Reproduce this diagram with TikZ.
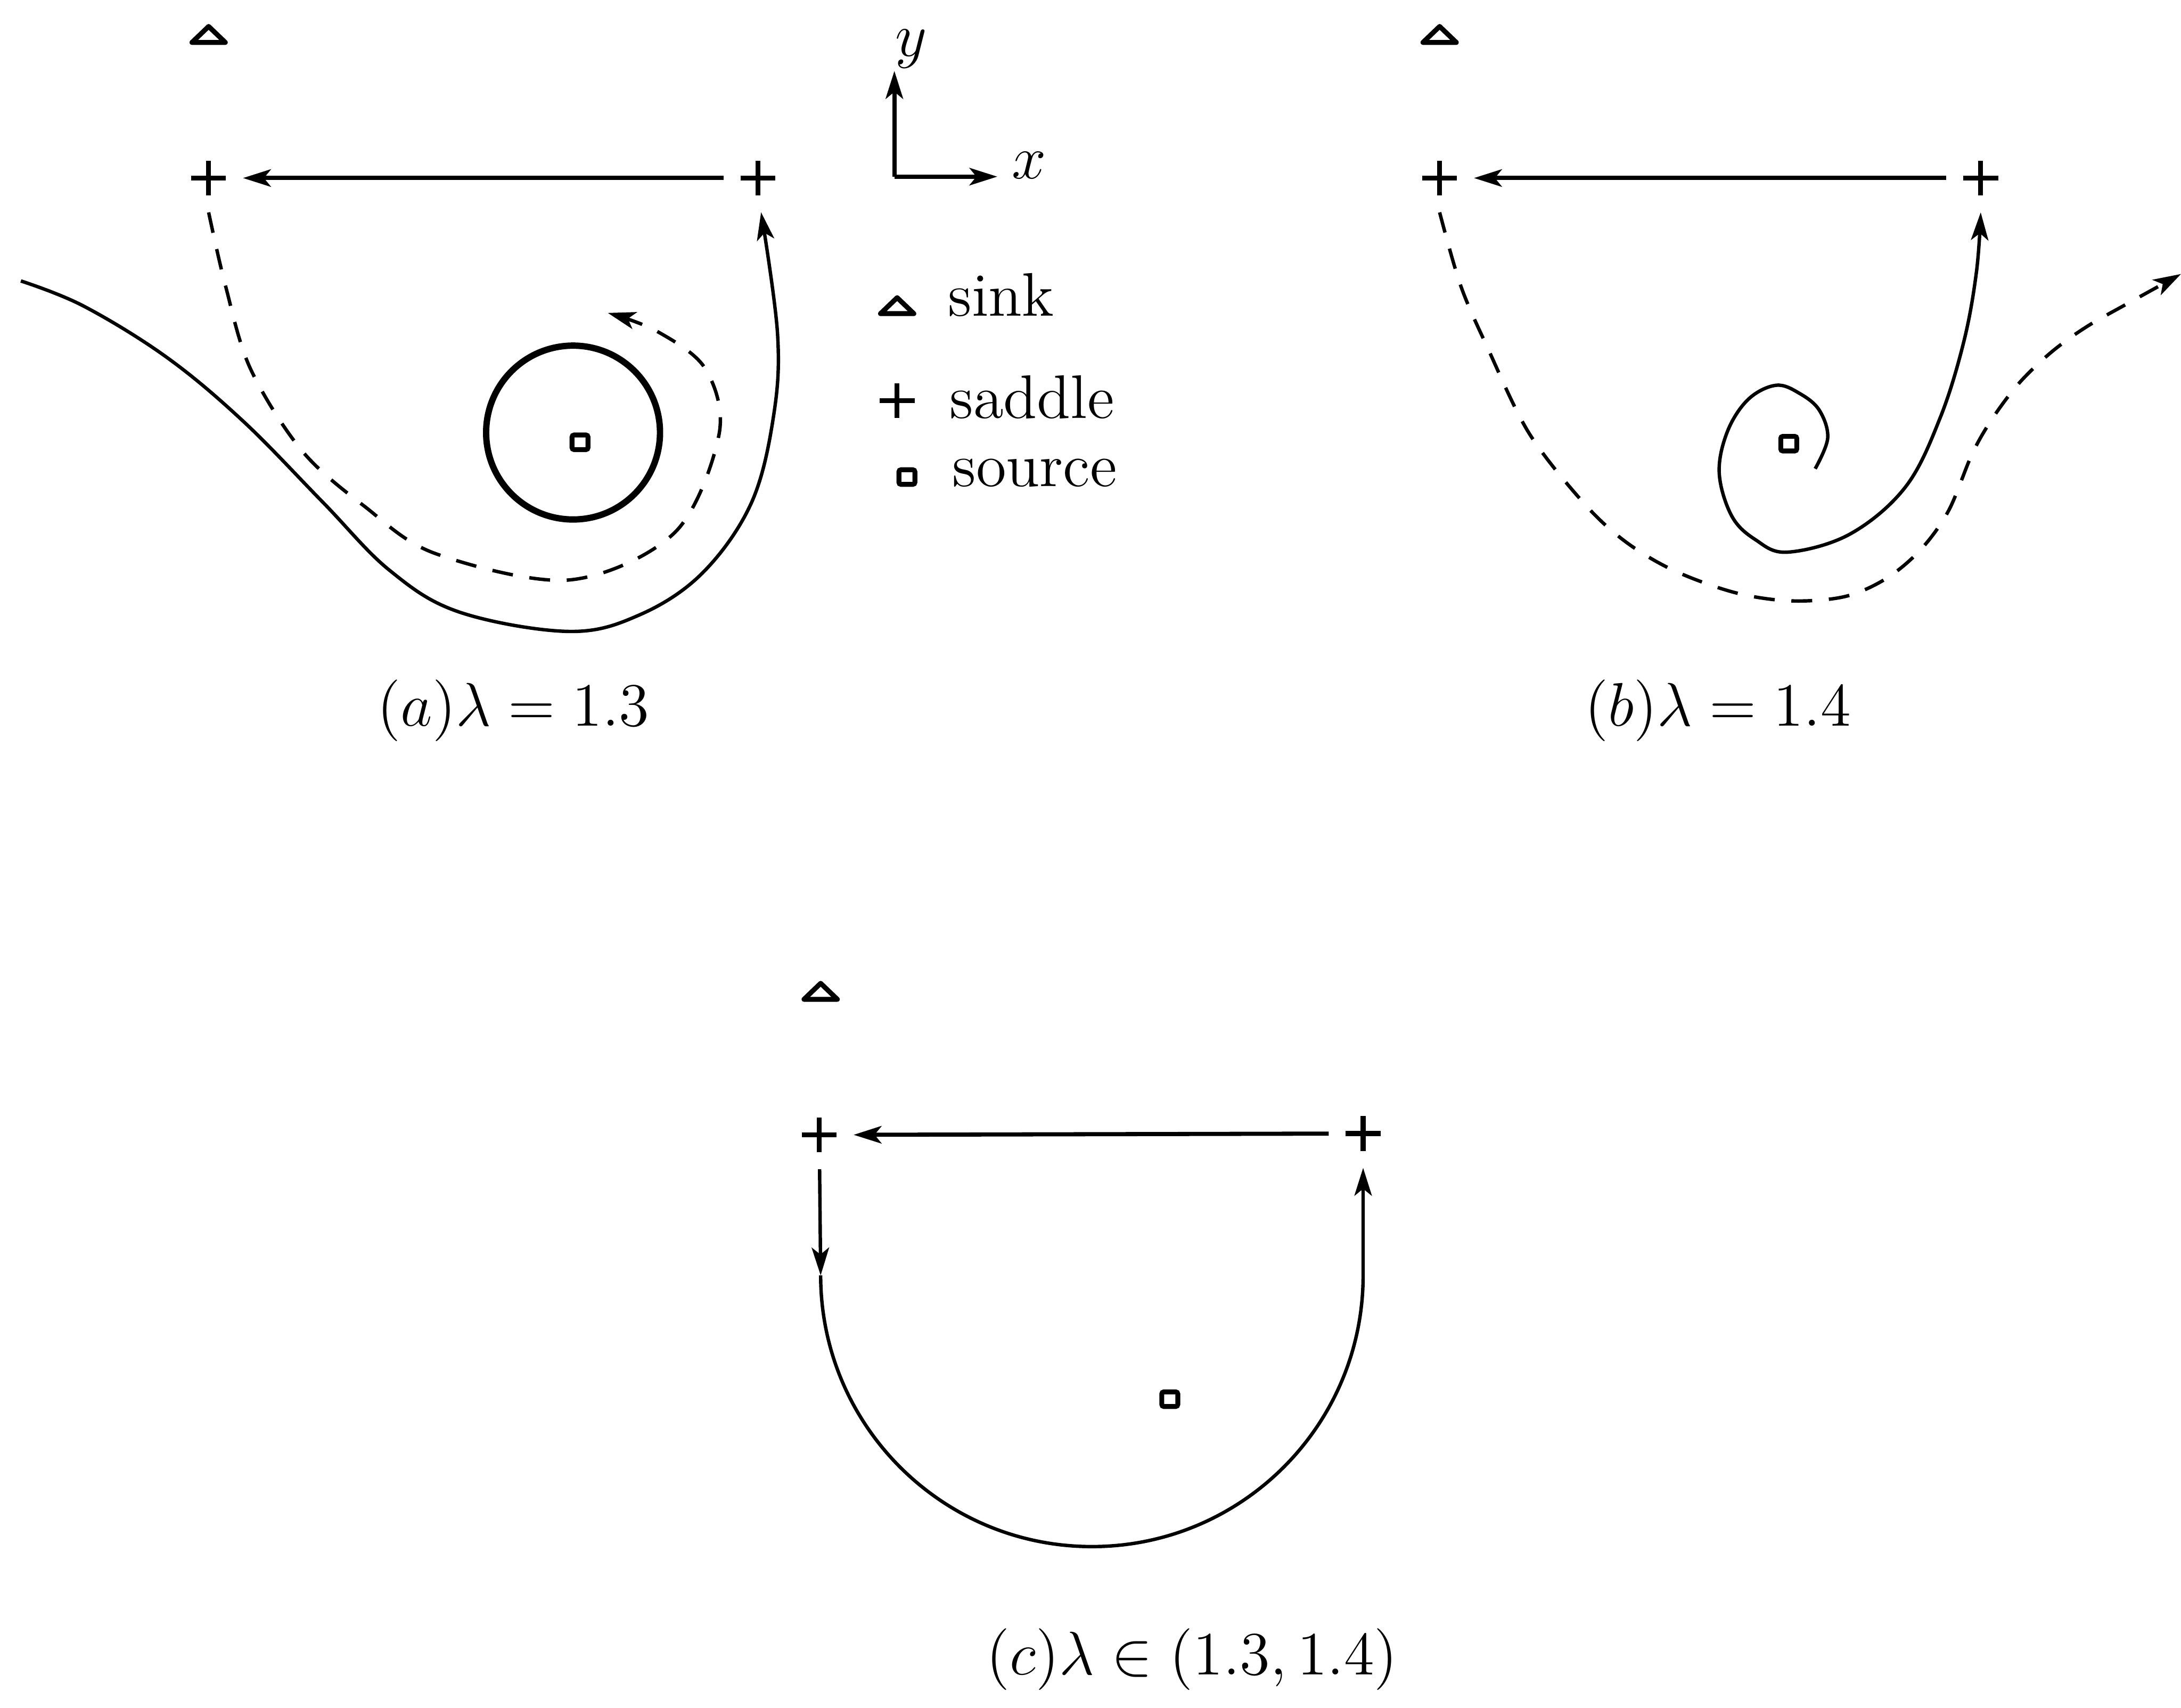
\documentclass[tikz,border=0pt]{standalone}
\usepackage{fix-cm}
\usetikzlibrary{arrows.meta}
\begin{document}
\begin{tikzpicture}[x=0.1mm,y=-0.1mm,
  every node/.style={font=\fontsize{12.6}{15}\selectfont},
  >={Stealth[length=2mm,width=1.25mm,inset=0.5mm]},
  curve/.style={line width=0.7pt},
  flow/.style={line width=0.85pt},
  dashcurve/.style={line width=0.7pt, dash pattern=on 1.5mm off 1.2mm},
  saddlept/.style={circle, inner sep=0pt, minimum size=4.8mm,
    path picture={\draw[line width=1pt]
      ([xshift=-1.25mm]path picture bounding box.center) -- ([xshift=1.25mm]path picture bounding box.center)
      ([yshift=-1.25mm]path picture bounding box.center) -- ([yshift=1.25mm]path picture bounding box.center);}},
  sinkpt/.style={rectangle, inner sep=0pt, minimum width=3.6mm, minimum height=2.4mm,
    path picture={\draw[line width=1pt, line join=round]
      ([shift={(-1.2mm,-0.55mm)}]path picture bounding box.center) --
      ([shift={(1.2mm,-0.55mm)}]path picture bounding box.center) --
      ([shift={(0mm,0.6mm)}]path picture bounding box.center) -- cycle;}},
  sourcept/.style={draw, rectangle, line width=1pt, minimum width=1.15mm, minimum height=1.05mm,
    inner sep=0pt, rounded corners=0.15mm},
  lbl/.style={inner sep=0pt}
]
\useasboundingbox (0,0) rectangle (1568,1228);

% ---------------- panel (a) ----------------
\node[sinkpt] (aSink) at (150,25) {};
\node[saddlept] (aL) at (150,128) {};
\node[saddlept] (aR) at (545,128) {};
\node[sourcept] (aSrc) at (417,318) {};
\coordinate (aFree) at (15,202);
\coordinate (aTip) at (437,225);
\draw[flow,->] (aR) -- (aL);
\draw[line width=1.3pt] (412,311) circle[radius=62.5];
\draw[dashcurve,->] plot[smooth, tension=0.55] coordinates {(aL.south) (162,205) (180,265) (217,324) (262,364) (313,398) (409,417) (485,383) (517,312) (507,265) (472,238) (aTip)};
\draw[curve,->] plot[smooth, tension=0.6] coordinates {(aFree) (60,220) (120,257) (175,303) (232,361) (280,410) (330,440) (409,454) (460,442) (505,412) (540,362) (556,300) (559,240) (aR.-85)};
\node[lbl] (aLab) at (369,511) {$(a)\lambda=1.3$};

% ---------------- axes and legend ----------------
\coordinate (O) at (643,127);
\coordinate (yTip) at (643,51);
\coordinate (xTip) at (717,127);
\draw[flow,->] (O) -- (yTip);
\draw[flow,->] (O) -- (xTip);
\node[lbl] (ylab) at (655,35) {$y$};
\node[lbl] (xlab) at (740,119) {$x$};

\node[sinkpt] (lgSink) at (645,220) {};
\node[lbl, anchor=base west] (lgSinkT) at (681,227) {sink};
\node[saddlept] (lgSad) at (645,288) {};
\node[lbl, anchor=base west] (lgSadT) at (682,300.5) {saddle};
\node[sourcept] (lgSrc) at (652,343) {};
\node[lbl, anchor=base west] (lgSrcT) at (684,349.5) {source};

% ---------------- panel (b) ----------------
\node[sinkpt] (bSink) at (1035,25) {};
\node[saddlept] (bL) at (1035,128) {};
\node[saddlept] (bR) at (1424,128) {};
\node[sourcept] (bSrc) at (1286,319) {};
\coordinate (bFree) at (1568,197);
\coordinate (bSpir) at (1305,337);
\draw[flow,->] (bR) -- (bL);
\draw[dashcurve,->] plot[smooth, tension=0.55] coordinates {(bL.south) (1050,205) (1069,249) (1099,311) (1138,361) (1168,389) (1203,410) (1247,426) (1287,432) (1326,429) (1356,416) (1381,395) (1401,367) (1418,326) (1433,300) (1452,275) (1475,253) (1500,235) (1530,218) (bFree)};
\draw[curve,->] plot[smooth, tension=0.6] coordinates {(bSpir) (1314,315) (1308,295) (1294,283) (1277,277) (1257,287) (1242,310) (1236,340) (1245,371) (1262,388) (1285,397) (1330,384) (1370,350) (1395,300) (1412,245) (1421,195) (bR.south)};
\node[lbl] (bLab) at (1235,511) {$(b)\lambda=1.4$};

% ---------------- panel (c) ----------------
\node[sinkpt] (cSink) at (590,713) {};
\node[saddlept] (cL) at (589,816) {};
\node[saddlept] (cR) at (980,815) {};
\node[sourcept] (cSrc) at (841,1006) {};
\coordinate (cA) at (590,917);
\draw[flow,->] (cR) -- (cL);
\draw[curve,->] (cL) -- (cA);
\draw[curve,->] (cA) arc[start angle=180, end angle=0, radius=195] -- (cR);
\node[lbl] (cLab) at (857,1193) {$(c)\lambda\in(1.3,1.4)$};
\end{tikzpicture}
\end{document}
